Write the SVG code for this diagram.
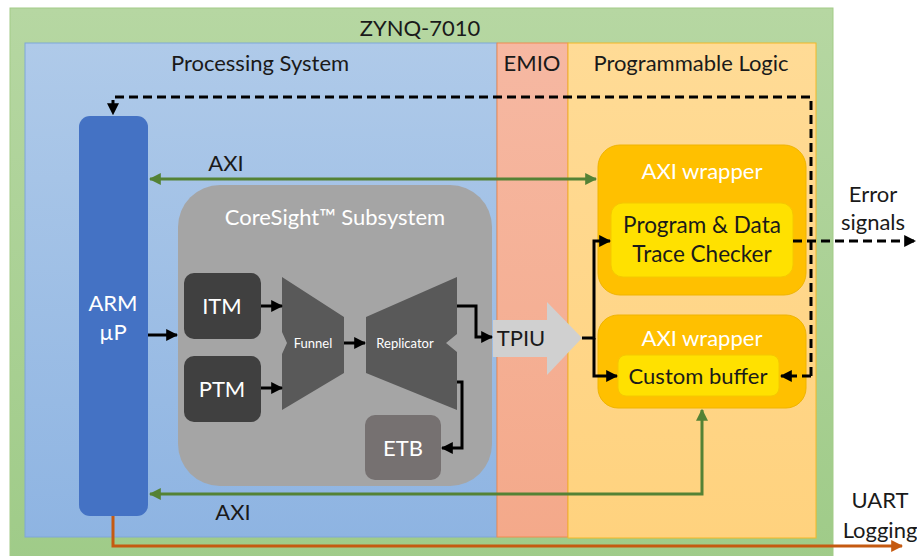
<svg xmlns="http://www.w3.org/2000/svg" width="917" height="556" viewBox="0 0 917 556">
<style>
text{font-family:Lato,"Liberation Sans",sans-serif;text-anchor:middle}
.t{font-size:22px;fill:#1a1a1a}
.w{font-size:22px;fill:#ffffff}
.s{font-size:13px;fill:#ffffff}
.blk{stroke:#000;stroke-width:3;fill:none}
.dash{stroke:#000;stroke-width:3;fill:none;stroke-dasharray:9 5}
.grn{stroke:#548235;stroke-width:3;fill:none}
.org{stroke:#C55A11;stroke-width:3;fill:none}
</style>
<defs>
<linearGradient id="gG" x1="0" y1="0" x2="0" y2="1"><stop offset="0" stop-color="#B6D7A2"/><stop offset="1" stop-color="#9FCB88"/></linearGradient>
<linearGradient id="gB" x1="0" y1="0" x2="0" y2="1"><stop offset="0" stop-color="#AFCAE9"/><stop offset="1" stop-color="#8EB4E2"/></linearGradient>
<linearGradient id="gE" x1="0" y1="0" x2="0" y2="1"><stop offset="0" stop-color="#F6B8A2"/><stop offset="1" stop-color="#F4A98A"/></linearGradient>
<linearGradient id="gP" x1="0" y1="0" x2="0" y2="1"><stop offset="0" stop-color="#FFDB96"/><stop offset="1" stop-color="#FFD27E"/></linearGradient>
<marker id="aK" viewBox="0 0 10 10" refX="9" refY="5" markerWidth="4" markerHeight="4" orient="auto-start-reverse" markerUnits="strokeWidth"><path d="M0,0L10,5L0,10z" fill="#000"/></marker>
<marker id="aG" viewBox="0 0 10 10" refX="9" refY="5" markerWidth="4" markerHeight="4" orient="auto-start-reverse" markerUnits="strokeWidth"><path d="M0,0L10,5L0,10z" fill="#548235"/></marker>
<marker id="aO" viewBox="0 0 10 10" refX="9" refY="5" markerWidth="4" markerHeight="4" orient="auto-start-reverse" markerUnits="strokeWidth"><path d="M0,0L10,5L0,10z" fill="#C55A11"/></marker>
</defs>

<g id="zynq">
<rect x="10" y="8" width="823" height="560" fill="url(#gG)" stroke="#A3CC87" stroke-width="1"/>
<text class="t" x="420" y="36">ZYNQ-7010</text>
</g>
<g id="ps">
<rect x="25" y="43" width="472" height="494" fill="url(#gB)" stroke="#7FA7D8" stroke-width="1"/>
<text class="t" x="260" y="71">Processing System</text>
</g>
<g id="emio">
<rect x="497" y="43" width="71" height="494" fill="url(#gE)" stroke="#F08A50" stroke-width="1"/>
<text class="t" x="532" y="71">EMIO</text>
</g>
<g id="pl">
<rect x="568" y="43" width="248" height="495" fill="url(#gP)" stroke="#F2B827" stroke-width="1"/>
<text class="t" x="691" y="71">Programmable Logic</text>
</g>

<g id="arm">
<rect x="79" y="116" width="69" height="400" rx="11" fill="#4472C4"/>
<text class="w" x="113" y="311">ARM</text>
<text class="w" x="113" y="340">µP</text>
</g>

<g id="coresight">
<rect x="178" y="185" width="314" height="301" rx="42" fill="#A5A5A5"/>
<text class="w" x="335" y="225">CoreSight™ Subsystem</text>
</g>
<g id="itm">
<rect x="184" y="273" width="77" height="66" rx="10" fill="#404040"/>
<text class="w" x="222" y="314">ITM</text>
</g>
<g id="ptm">
<rect x="184" y="356" width="77" height="66" rx="10" fill="#404040"/>
<text class="w" x="222" y="397">PTM</text>
</g>
<g id="funnel">
<path d="M282,277L344,317L344,373L282,410L282,354L287,343L282,332Z" fill="#595959"/>
<text class="s" x="313" y="348">Funnel</text>
</g>
<g id="replicator">
<path d="M366,317L457,277L457,334L446,343L457,352L457,410L366,373Z" fill="#595959"/>
<text class="s" x="405" y="348">Replicator</text>
</g>
<g id="etb">
<rect x="365" y="415" width="76" height="65" rx="10" fill="#767171"/>
<text class="w" x="403" y="456">ETB</text>
</g>
<g id="tpiu">
<path d="M493,320L547,320L547,302L582,338L547,375L547,357L493,357Z" fill="#D0D0D0"/>
<text class="t" x="521" y="346">TPIU</text>
</g>

<g id="wrapper1">
<rect x="598" y="145" width="208" height="150" rx="22" fill="#FFC000" stroke="#F0B400" stroke-width="1"/>
<text class="w" x="702" y="179">AXI wrapper</text>
</g>
<g id="checker">
<rect x="611" y="203" width="182" height="74" rx="12" fill="#FFE100" stroke="#F5C800" stroke-width="1"/>
<text class="t" x="702" y="233" style="font-size:22.5px">Program &amp; Data</text>
<text class="t" x="702" y="262" style="font-size:22.5px">Trace Checker</text>
</g>
<g id="wrapper2">
<rect x="598" y="315" width="208" height="93" rx="20" fill="#FFC000" stroke="#F0B400" stroke-width="1"/>
<text class="w" x="702" y="346">AXI wrapper</text>
</g>
<g id="buffer">
<rect x="618" y="355" width="161" height="41" rx="8" fill="#FFE100" stroke="#F5C800" stroke-width="1"/>
<text class="t" x="698" y="384">Custom buffer</text>
</g>

<g id="labels">
<text class="t" x="226" y="171">AXI</text>
<text class="t" x="233" y="520">AXI</text>
<text class="t" x="873" y="202">Error</text>
<text class="t" x="873" y="230">signals</text>
<text class="t" x="880" y="508">UART</text>
<text class="t" x="880" y="538">Logging</text>
</g>

<g id="connectors">
<path class="dash" d="M811,376L811,97L113,97L113,114" marker-end="url(#aK)"/>
<path class="dash" d="M811,376L781,376" marker-end="url(#aK)"/>
<path class="dash" d="M793,241L915,241" marker-end="url(#aK)"/>
<path class="grn" d="M150,179L596,179" marker-start="url(#aG)" marker-end="url(#aG)"/>
<path class="grn" d="M150,494L702,494L702,410" marker-start="url(#aG)" marker-end="url(#aG)"/>
<path class="org" d="M113,516L113,546L902,546" marker-end="url(#aO)"/>
<path class="blk" d="M148,335L177,335" marker-end="url(#aK)"/>
<path class="blk" d="M261,306L282,306" marker-end="url(#aK)"/>
<path class="blk" d="M261,388L282,388" marker-end="url(#aK)"/>
<path class="blk" d="M344,343L365,343" marker-end="url(#aK)"/>
<path class="blk" d="M457,306L476,306L476,337L492,337" marker-end="url(#aK)"/>
<path class="blk" d="M457,382L462,382L462,448L442,448" marker-end="url(#aK)"/>
<path class="blk" d="M582,338L594,338L594,241L610,241" marker-end="url(#aK)"/>
<path class="blk" d="M594,338L594,376L617,376" marker-end="url(#aK)"/>
</g>
</svg>
